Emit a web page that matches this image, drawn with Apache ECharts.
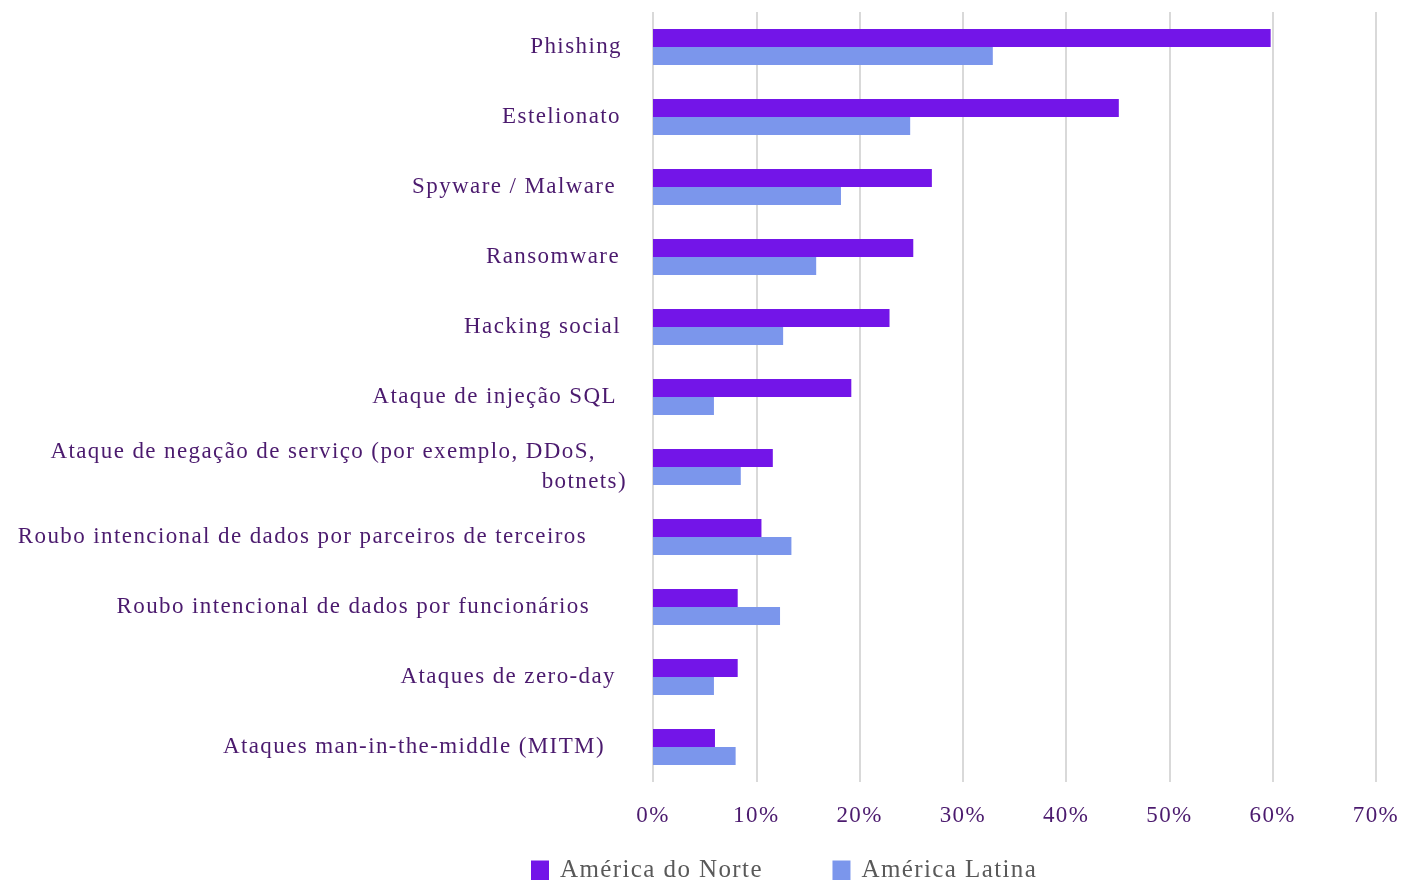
<!DOCTYPE html>
<html>
<head>
<meta charset="utf-8">
<script src="https://cdn.jsdelivr.net/npm/echarts@6/dist/echarts.min.js"></script>
<style>
html,body{margin:0;padding:0;background:#fff}
#c{width:1404px;height:880px}
</style>
</head>
<body>
<div id="c"></div>
<script>
const categories = [
  'Phishing',
  'Estelionato',
  'Spyware / Malware',
  'Ransomware',
  'Hacking social',
  'Ataque de injeção SQL',
  'Ataque de negação de serviço (por exemplo, DDoS,\nbotnets)',
  'Roubo intencional de dados por parceiros de terceiros',
  'Roubo intencional de dados por funcionários',
  'Ataques de zero-day',
  'Ataques man-in-the-middle (MITM)'
];
const seriesNames = ['América do Norte', 'América Latina'];
const northAmerica = [59.8, 45.1, 27.0, 25.2, 22.9, 19.2, 11.6, 10.5, 8.2, 8.2, 6.0];
const latinAmerica = [32.9, 24.9, 18.2, 15.8, 12.6, 5.9, 8.5, 13.4, 12.3, 5.9, 8.0];
const xTicks = [0, 10, 20, 30, 40, 50, 60, 70];

// label right-edge offsets (style only)
const labelPadRight = [5, 6, 11, 7, 6, 10, 0, 40, 37, 11, 22];

// widen glyph spacing like the source document
(function () {
  const proto = CanvasRenderingContext2D.prototype;
  const orig = proto.fillText;
  proto.fillText = function () {
    try { this.letterSpacing = '1.4px'; } catch (e) {}
    return orig.apply(this, arguments);
  };
})();

const FONT = 'Liberation Serif';
const LABEL_COLOR = '#4B1A6E';
const chart = echarts.init(document.getElementById('c'));
chart.setOption({
  animation: false,
  textStyle: { fontFamily: FONT },
  grid: { left: 653, right: 28, top: 12, bottom: 98, containLabel: false },
  legend: {
    top: 853,
    left: 526,
    itemWidth: 18,
    itemHeight: 20,
    itemGap: 92,
    itemStyle: { borderWidth: 0 },
    icon: 'rect',
    textStyle: { fontFamily: FONT, fontSize: 25, color: '#595959', padding: [0, 0, 0, 6] },
    data: seriesNames
  },
  xAxis: {
    type: 'value',
    min: xTicks[0],
    max: xTicks[xTicks.length - 1],
    interval: 10,
    axisLine: { show: false },
    axisTick: { show: false },
    splitLine: { show: true, lineStyle: { color: '#D9D9D9', width: 2 } },
    axisLabel: {
      formatter: v => v + '%',
      fontFamily: FONT,
      fontSize: 23,
      color: LABEL_COLOR,
      margin: 22
    }
  },
  yAxis: {
    type: 'category',
    inverse: true,
    data: categories.map((c, i) => ({ value: c, textStyle: { padding: [0, labelPadRight[i], 0, 0] } })),
    axisLine: { show: false },
    axisTick: { show: false },
    axisLabel: {
      fontFamily: FONT,
      fontSize: 23,
      color: LABEL_COLOR,
      margin: 26,
      lineHeight: 30,
      formatter: function (v) {
        if (v.indexOf('\n') >= 0) {
          const parts = v.split('\n');
          return '{a|' + parts[0] + '}\n{b|' + parts[1] + '}';
        }
        return v;
      },
      rich: {
        a: { fontFamily: FONT, fontSize: 23, color: LABEL_COLOR, lineHeight: 30, padding: [0, 31, 0, 0] },
        b: { fontFamily: FONT, fontSize: 23, color: LABEL_COLOR, lineHeight: 30 }
      }
    }
  },
  series: [
    {
      name: seriesNames[0],
      type: 'bar',
      data: northAmerica,
      barWidth: 18,
      barGap: '0%',
      itemStyle: { color: '#7315E8' }
    },
    {
      name: seriesNames[1],
      type: 'bar',
      data: latinAmerica,
      barWidth: 18,
      barGap: '0%',
      itemStyle: { color: '#7B96EC' }
    }
  ]
});
</script>
</body>
</html>
